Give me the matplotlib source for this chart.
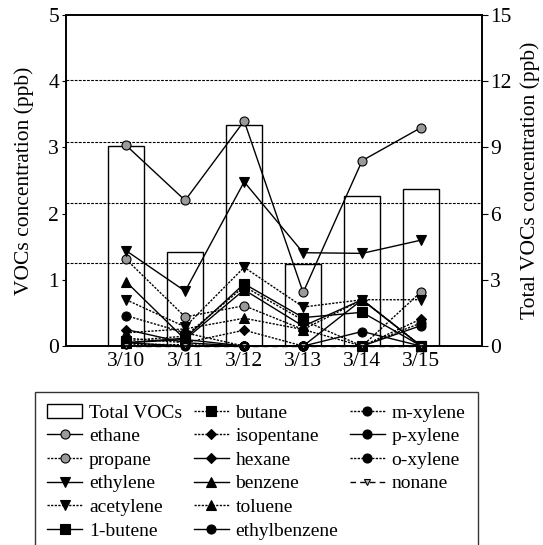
import numpy as np
import matplotlib
matplotlib.use('agg')
from matplotlib import pyplot as plt
from matplotlib.lines import Line2D

plt.rcParams['font.family'] = ['Liberation Serif', 'DejaVu Serif']

dates = ['3/10', '3/11', '3/12', '3/13', '3/14', '3/15']

# total VOCs (right axis, ppb)
total_vocs = [9.07, 4.24, 10.0, 3.74, 6.78, 7.12]

# individual VOCs (left axis, ppb)
ethane = [3.03, 2.20, 3.40, 0.81, 2.80, 3.30]
propane = [1.31, 0.44, 0.61, 0.25, 0.00, 0.82]
ethylene = [1.44, 0.83, 2.48, 1.41, 1.40, 1.60]
acetylene = [0.70, 0.29, 1.19, 0.59, 0.70, 0.70]
butene_1 = [0.05, 0.12, 0.94, 0.43, 0.51, 0.00]
butane = [0.08, 0.15, 0.90, 0.39, 0.00, 0.00]
isopentane = [0.12, 0.05, 0.24, 0.00, 0.00, 0.41]
hexane = [0.25, 0.05, 0.00, 0.00, 0.70, 0.00]
benzene = [0.97, 0.10, 0.85, 0.30, 0.70, 0.00]
toluene = [0.20, 0.26, 0.42, 0.25, 0.70, 0.00]
ethylbenzene = [0.05, 0.10, 0.00, 0.00, 0.22, 0.00]
m_xylene = [0.46, 0.20, 0.00, 0.00, 0.00, 0.00]
p_xylene = [0.05, 0.00, 0.00, 0.00, 0.00, 0.31]
o_xylene = [0.03, 0.02, 0.00, 0.00, 0.00, 0.35]
nonane = [0.00, 0.00, 0.00, 0.00, 0.00, 0.00]

# horizontal reference lines (right axis units)
ref_lines = [3.76, 6.5, 9.25, 12.05]

DOT = (0, (1.6, 1.0))
series = [
    ('ethane', ethane, '-', 'o', '#9a9a9a'),
    ('propane', propane, DOT, 'o', '#9a9a9a'),
    ('ethylene', ethylene, '-', 'v', 'k'),
    ('acetylene', acetylene, DOT, 'v', 'k'),
    ('1-butene', butene_1, '-', 's', 'k'),
    ('butane', butane, DOT, 's', 'k'),
    ('isopentane', isopentane, DOT, 'D', 'k'),
    ('hexane', hexane, '-', 'D', 'k'),
    ('benzene', benzene, '-', '^', 'k'),
    ('toluene', toluene, DOT, '^', 'k'),
    ('ethylbenzene', ethylbenzene, '-', 'o', 'k'),
    ('m-xylene', m_xylene, DOT, 'o', 'k'),
    ('p-xylene', p_xylene, '-', 'o', 'k'),
    ('o-xylene', o_xylene, DOT, 'o', 'k'),
    ('nonane', nonane, (0, (4, 3)), 'v', '#bbbbbb'),
]

x = np.arange(len(dates))

fig = plt.figure(figsize=(5.43, 5.45), dpi=100)
ax = fig.add_axes([0.1215, 0.365, 0.766, 0.6075])
ax2 = ax.twinx()

bars = ax2.bar(x, total_vocs, width=0.6, fill=False, edgecolor='k', linewidth=1.0,
               label='Total VOCs')
for v in ref_lines:
    ax2.axhline(v, color='k', lw=0.8, dashes=(2.5, 1.2), zorder=0)
ax2.set_ylim(0, 15)
ax2.set_yticks([0, 3, 6, 9, 12, 15])
ax2.set_ylabel('Total VOCs concentration (ppb)', fontsize=15.5, labelpad=6)

handles = [bars]
for name, vals, ls, mk, fc in series:
    ms = 6.5
    if mk == 'D':
        ms = 5.5
    if name == 'nonane':
        ms = 5
    h, = ax.plot(x, vals, linestyle=ls, marker=mk, color='k', lw=1.0,
                 markerfacecolor=fc, markeredgecolor='k', markersize=ms,
                 markeredgewidth=0.8, label=name, clip_on=False)
    handles.append(h)

ax.set_zorder(ax2.get_zorder() + 1)
ax.patch.set_visible(False)

ax.set_xlim(-1.02, 6.03)
ax.set_ylim(0, 5)
ax.set_yticks([0, 1, 2, 3, 4, 5])
ax.set_xticks(x)
ax.set_xticklabels(dates)
ax.set_ylabel('VOCs concentration (ppb)', fontsize=15.5, labelpad=10)
ax.tick_params(axis='x', length=0, pad=4, labelsize=15.5)
ax.tick_params(axis='y', direction='out', length=3, labelsize=15.5, pad=2)
ax2.tick_params(axis='y', direction='out', length=4, labelsize=15.5, pad=2)

for a in (ax, ax2):
    for s in a.spines.values():
        s.set_linewidth(1.2)

# two empty slots so the columns hold 6, 6 and 4 entries
blank = Line2D([], [], linestyle='none', marker='none')
labels = [h.get_label() for h in handles]
handles += [blank, blank]
labels += ['', '']

leg = fig.legend(handles, labels, ncol=3,
                 loc='upper left', bbox_to_anchor=(0.0645, 0.281),
                 frameon=True, fancybox=False, edgecolor='k', fontsize=14,
                 handlelength=1.8, handletextpad=0.35, columnspacing=0.6,
                 labelspacing=0.31, borderpad=0.62, borderaxespad=0)
leg.get_frame().set_linewidth(1.0)

fig.savefig('out.png', dpi=100)
